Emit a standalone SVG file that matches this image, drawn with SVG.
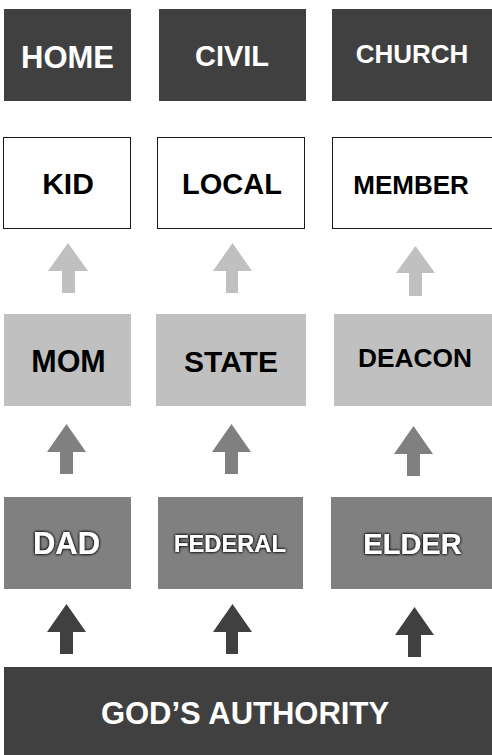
<svg xmlns="http://www.w3.org/2000/svg" width="492" height="755" viewBox="0 0 492 755">
<style>
text{font-family:"Liberation Sans",Arial,sans-serif;font-weight:bold;text-anchor:middle}
.dark{fill:#404040}
.mid{fill:#808080}
.light{fill:#c0c0c0}
.white{fill:#ffffff;stroke:#1a1a1a;stroke-width:1}
.tw{fill:#ffffff}
.tb{fill:#000000}
</style>
<defs>
<filter id="glow" x="-20%" y="-40%" width="140%" height="180%">
<feGaussianBlur in="SourceAlpha" stdDeviation="1.8" result="b"/>
<feFlood flood-color="#000000" flood-opacity="1"/>
<feComposite in2="b" operator="in" result="s"/>
<feMerge><feMergeNode in="s"/><feMergeNode in="s"/><feMergeNode in="SourceGraphic"/></feMerge>
</filter>
</defs>
<g id="home"><rect class="dark" x="4" y="9" width="127" height="92"/><text class="tw" x="67.5" y="68" font-size="31">HOME</text></g>
<g id="civil"><rect class="dark" x="159" y="9" width="147" height="92"/><text class="tw" x="232" y="66" font-size="29">CIVIL</text></g>
<g id="church"><rect class="dark" x="332" y="9" width="160" height="92"/><text class="tw" x="412" y="63" font-size="26">CHURCH</text></g>

<g id="kid"><rect class="white" x="3.5" y="137.5" width="127" height="91"/><text class="tb" x="68" y="194" font-size="30">KID</text></g>
<g id="local"><rect class="white" x="157.5" y="137.5" width="147" height="91"/><text class="tb" x="232" y="194" font-size="29">LOCAL</text></g>
<g id="member"><rect class="white" x="332.5" y="137.5" width="160" height="91"/><text class="tb" x="411" y="194" font-size="26">MEMBER</text></g>

<g id="mom"><rect class="light" x="4" y="314" width="127" height="92"/><text class="tb" x="68.5" y="372" font-size="30.5">MOM</text></g>
<g id="state"><rect class="light" x="156" y="314" width="150" height="92"/><text class="tb" x="231" y="372" font-size="30">STATE</text></g>
<g id="deacon"><rect class="light" x="334" y="314" width="158" height="92"/><text class="tb" x="415" y="367" font-size="26.3">DEACON</text></g>

<g id="dad"><rect class="mid" x="4" y="497" width="127" height="92"/><text class="tw" x="66.5" y="554" font-size="31" filter="url(#glow)">DAD</text></g>
<g id="federal"><rect class="mid" x="158" y="497" width="145" height="92"/><text class="tw" x="230" y="552" font-size="23.7" filter="url(#glow)">FEDERAL</text></g>
<g id="elder"><rect class="mid" x="331" y="497" width="161" height="92"/><text class="tw" x="412.5" y="554" font-size="29" filter="url(#glow)">ELDER</text></g>

<g id="gods-authority"><rect class="dark" x="4" y="667" width="488" height="88"/><text class="tw" x="245" y="724" font-size="31">GOD’S AUTHORITY</text></g>

<g id="connectors">
<polygon class="light" points="68,243 88,271 75,271 75,293 62,293 62,271 48,271"/>
<polygon class="light" points="232.5,243 252,271 238,271 238,293 226,293 226,271 213,271"/>
<polygon class="light" points="415.5,246 435,273 422,273 422,296 409,296 409,273 396,273"/>

<polygon class="mid" points="66.5,424 86,452 73,452 73,474 60,474 60,452 47,452"/>
<polygon class="mid" points="231.5,424 251,452 238,452 238,474 225,474 225,452 212,452"/>
<polygon class="mid" points="413.5,426 433,454 420,454 420,476 407,476 407,454 394,454"/>

<polygon class="dark" points="66.5,604 86,632 73,632 73,654 60,654 60,632 47,632"/>
<polygon class="dark" points="232.5,604 252,632 238,632 238,654 226,654 226,632 213,632"/>
<polygon class="dark" points="414.5,607 434,635 421,635 421,657 408,657 408,635 395,635"/>
</g>
</svg>
